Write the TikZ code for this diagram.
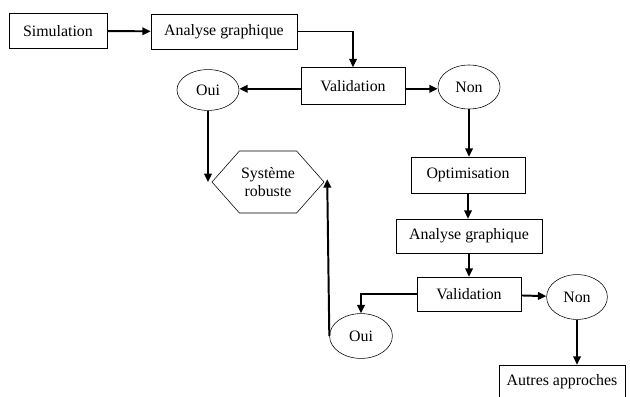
\documentclass[tikz,border=0pt]{standalone}
\usepackage{fontspec}
\setmainfont{Liberation Serif}
\usepackage{tikz}
\usetikzlibrary{arrows.meta,shapes.geometric,shapes.symbols}
\tikzset{
  stepbox/.style  = {draw,thin,rectangle,inner sep=1pt},
  answer/.style   = {draw,thin,ellipse,inner sep=0pt},
  outcome/.style  = {draw,thin,signal,signal to=west and east,signal pointer angle=97,
                     inner sep=1pt,align=center},
  flow/.style     = {-{Triangle[length=6pt,width=5.4pt]},line width=1.4pt}
}
\begin{document}
\begin{tikzpicture}[x=0.025cm,y=-0.025cm,font=\fontsize{11.3}{12.5}\selectfont]
  \useasboundingbox (0,0) rectangle (630,396);
  % first loop
  \node[stepbox,minimum width=2.45cm,minimum height=0.875cm]  (sim)  at (58,31)    {Simulation};
  \node[stepbox,minimum width=3.65cm,minimum height=0.875cm]  (ag1)  at (224,31.5) {Analyse graphique};
  \node[stepbox,minimum width=2.6cm,minimum height=0.925cm]   (val1) at (353,86)   {Validation};
  \node[answer,minimum width=1.55cm,minimum height=1.02cm]    (oui1) at (208,90)   {Oui};
  \node[answer,minimum width=1.55cm,minimum height=1.1cm]     (non1) at (469,87)   {Non};
  \node[outcome,minimum width=2.8cm,minimum height=1.55cm]    (rob)  at (268,182)  {Système\\robuste};
  % second loop
  \node[stepbox,minimum width=2.85cm,minimum height=0.9cm]    (opt)  at (468,175)  {Optimisation};
  \node[stepbox,minimum width=3.65cm,minimum height=0.85cm]   (ag2)  at (469,236)  {Analyse graphique};
  \node[stepbox,minimum width=2.6cm,minimum height=0.85cm]    (val2) at (469,294)  {Validation};
  \node[answer,minimum width=1.57cm,minimum height=1.12cm]    (oui2) at (361,336)  {Oui};
  \node[answer,minimum width=1.52cm,minimum height=1.12cm]    (non2) at (577,297)  {Non};
  \node[stepbox,minimum width=3.15cm,minimum height=0.85cm]   (aut)  at (562,382)  {Autres approches};
  % connectors
  \draw[flow] (sim) -- (ag1);
  \draw[flow] (ag1.east) -| (val1.north);
  \draw[flow] ([yshift=-2pt]val1.west) -- ([yshift=-2pt]val1.west -| oui1.east);
  \draw[flow] ([yshift=-2pt]val1.east) -- ([yshift=-2pt]val1.east -| non1.west);
  \draw[flow] (oui1.south) -- (oui1.south |- rob.west);
  \draw[flow] (non1.south) -- (non1.south |- opt.north);
  \draw[flow] (opt) -- (opt |- ag2.north);
  \draw[flow] (ag2) -- (val2);
  \draw[flow] (val2.west) -| (oui2.north);
  \draw[flow] (val2) -- (non2);
  \draw[flow] (non2.south) -- (non2.south |- aut.north);
  \draw[flow] (oui2.west) -- ([xshift=-1.5pt,yshift=2pt]oui2.west |- rob.east);
\end{tikzpicture}
\end{document}
